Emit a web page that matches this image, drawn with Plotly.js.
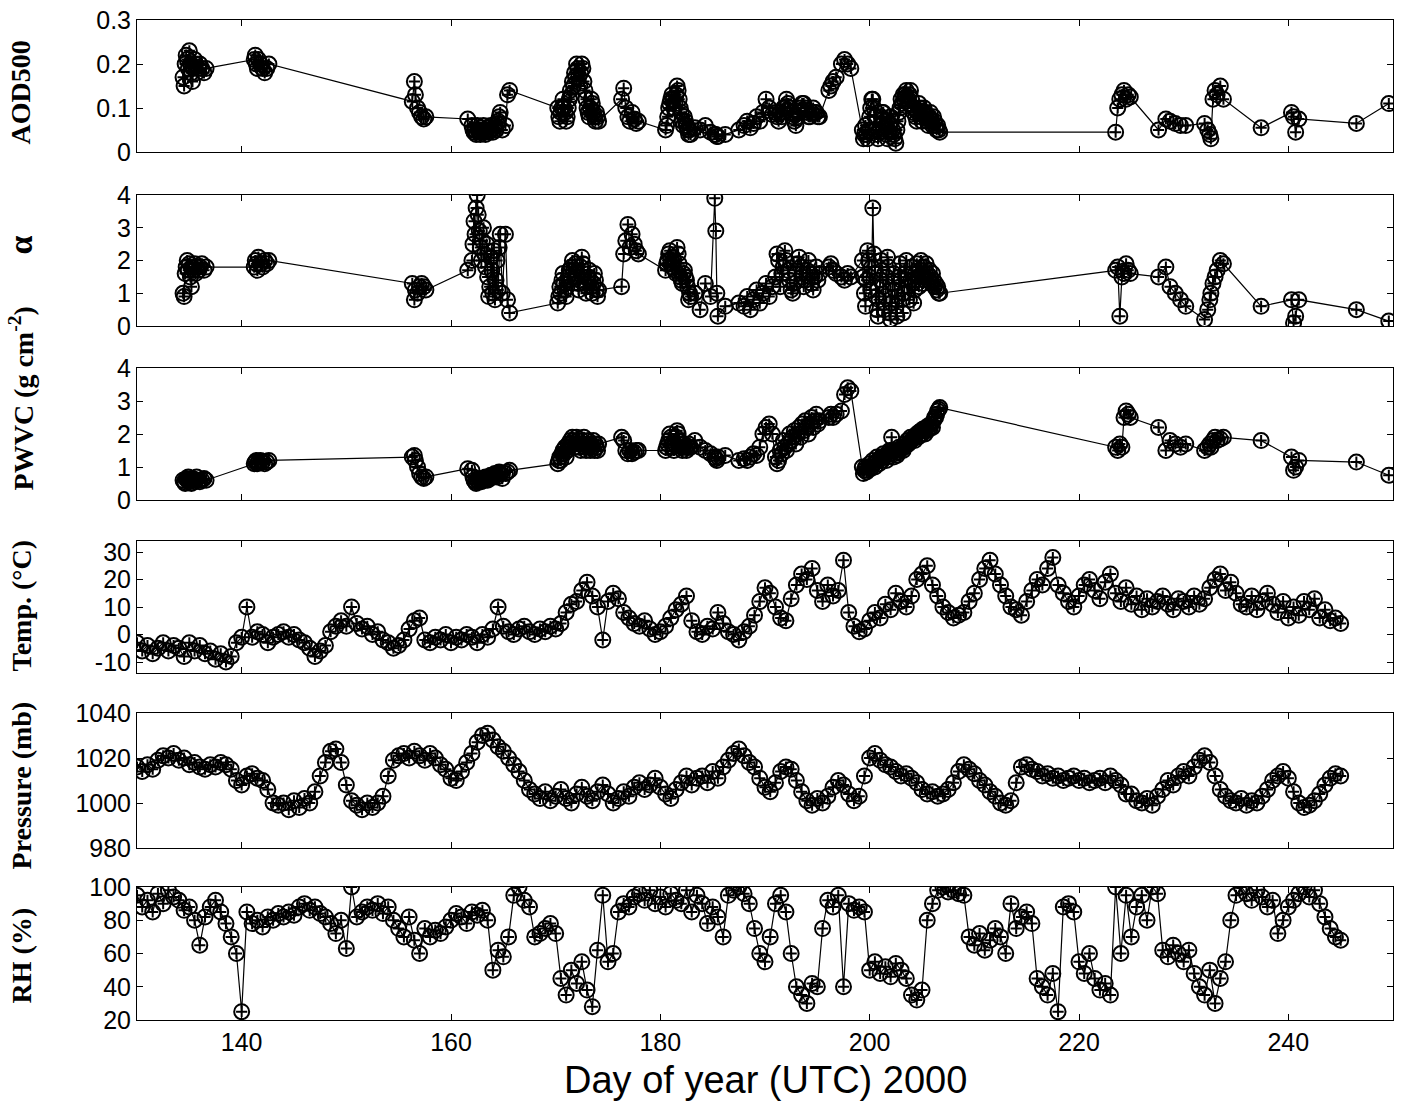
<!DOCTYPE html>
<html><head><meta charset="utf-8">
<script src="https://cdn.plot.ly/plotly-3.0.1.min.js"></script>
<style>html,body{margin:0;padding:0;background:#fff}#chart{width:1411px;height:1105px}</style>
</head><body><div id="chart"></div>
<script>
// Sun-photometer observation times (day of year) and retrievals
const sunDays = [
134.4,134.5,134.6,134.7,134.8,134.9,135.0,135.1,135.2,135.3,135.4,135.5,135.6,135.7,135.9,136.0,136.2,136.4,136.6,
141.2,141.3,141.4,141.5,141.6,141.8,142.0,142.2,142.4,142.6,
156.3,156.5,156.6,156.8,157.0,157.2,157.4,157.6,
161.6,162.0,162.1,162.2,162.3,162.4,162.5,162.6,162.7,162.8,162.9,163.0,163.1,163.2,163.3,163.4,163.5,163.6,163.7,163.8,163.9,164.0,164.1,164.2,164.3,164.4,164.5,164.6,164.7,
164.9,165.2,165.4,165.6,
170.2,170.3,170.4,170.5,170.6,170.7,170.8,170.9,171.0,171.1,171.2,171.3,171.4,171.5,171.6,171.7,171.8,171.9,172.0,172.1,
172.2,172.3,172.4,172.5,172.6,172.7,172.8,172.9,173.0,173.1,173.2,173.3,173.4,173.5,173.6,173.7,173.8,173.9,174.0,174.1,
176.3,176.5,176.7,176.9,177.1,177.3,177.5,177.7,177.9,
180.5,180.6,180.7,180.8,180.9,181.0,181.1,181.2,181.3,181.4,181.5,181.6,181.7,181.8,181.9,182.0,182.1,182.2,182.3,182.4,182.5,182.6,182.7,182.8,182.9,
183.3,183.8,184.3,184.8,185.2,185.3,185.4,185.5,186.2,
187.5,188.0,188.3,188.6,188.9,189.2,189.5,189.8,190.1,190.4,190.7,
191.0,191.15,191.3,191.45,191.6,191.75,191.9,192.05,192.2,192.35,192.5,192.65,192.8,192.95,193.1,193.25,193.4,193.55,193.7,193.85,194.0,194.15,194.3,194.45,194.6,194.75,194.9,195.05,195.2,
196.1,196.3,196.5,196.8,197.3,197.6,197.9,198.2,
199.3,199.4,199.5,199.6,199.7,199.8,199.9,200.0,200.1,200.2,200.3,200.4,200.5,200.6,200.7,200.8,200.9,201.0,201.1,201.2,
201.3,201.4,201.5,201.6,201.7,201.8,201.9,202.0,202.1,202.2,202.3,202.4,202.5,202.6,202.7,202.8,202.9,203.0,203.1,203.2,
203.3,203.4,203.5,203.6,203.7,203.8,203.9,204.0,204.1,204.2,204.3,204.4,204.5,204.6,204.7,204.8,204.9,205.0,205.1,205.2,
205.3,205.4,205.5,205.6,205.7,205.8,205.9,206.0,206.1,206.2,206.3,206.4,206.5,206.6,206.7,
223.5,223.7,223.9,224.1,224.3,224.5,224.7,224.9,
227.6,228.3,228.7,229.2,229.7,230.2,
232.0,232.3,232.5,232.6,232.8,233.0,233.2,233.5,233.8,
237.4,240.3,240.5,240.7,241.0,
246.5,249.6];
const aod500 = [
0.17,0.15,0.20,0.22,0.21,0.19,0.23,0.20,0.18,0.16,0.19,0.21,0.20,0.18,0.19,0.20,0.19,0.18,0.19,
0.21,0.22,0.20,0.19,0.21,0.20,0.19,0.18,0.19,0.20,
0.115,0.16,0.13,0.10,0.09,0.08,0.075,0.08,
0.075,0.06,0.05,0.045,0.05,0.04,0.06,0.05,0.045,0.04,0.055,0.05,0.06,0.045,0.04,0.05,0.055,0.045,0.05,0.06,0.05,0.045,0.055,0.06,0.05,0.065,0.07,0.08,0.09,
0.05,0.06,0.13,0.14,
0.10,0.08,0.07,0.09,0.10,0.12,0.10,0.09,0.07,0.08,0.10,0.12,0.14,0.13,0.16,0.15,0.18,0.17,0.20,0.19,
0.17,0.15,0.18,0.20,0.19,0.16,0.14,0.12,0.10,0.09,0.08,0.10,0.12,0.11,0.09,0.08,0.07,0.09,0.08,0.07,
0.12,0.145,0.10,0.08,0.07,0.09,0.075,0.065,0.07,
0.05,0.06,0.08,0.10,0.11,0.12,0.13,0.12,0.10,0.11,0.13,0.15,0.14,0.12,0.10,0.09,0.07,0.06,0.08,0.07,0.06,0.05,0.04,0.05,0.04,
0.055,0.05,0.06,0.045,0.04,0.04,0.035,0.035,0.04,
0.05,0.06,0.07,0.055,0.065,0.08,0.07,0.09,0.12,0.10,0.085,
0.09,0.08,0.07,0.09,0.08,0.10,0.10,0.12,0.11,0.10,0.09,0.08,0.07,0.06,0.08,0.09,0.10,0.11,0.11,0.10,0.09,0.08,0.08,0.09,0.10,0.09,0.09,0.08,0.08,
0.14,0.15,0.16,0.17,0.20,0.21,0.20,0.19,
0.05,0.03,0.04,0.06,0.04,0.03,0.05,0.08,0.10,0.12,0.12,0.10,0.08,0.05,0.04,0.03,0.05,0.06,0.08,0.09,
0.09,0.07,0.06,0.04,0.03,0.05,0.06,0.08,0.07,0.05,0.04,0.03,0.02,0.05,0.07,0.09,0.10,0.12,0.11,0.13,
0.12,0.13,0.14,0.12,0.11,0.13,0.14,0.12,0.10,0.09,0.10,0.08,0.07,0.09,0.11,0.10,0.08,0.07,0.09,0.10,
0.09,0.08,0.07,0.06,0.08,0.09,0.07,0.06,0.08,0.07,0.06,0.05,0.06,0.05,0.045,
0.045,0.10,0.12,0.13,0.14,0.12,0.13,0.125,
0.05,0.075,0.07,0.065,0.06,0.06,
0.065,0.05,0.04,0.03,0.12,0.14,0.13,0.15,0.12,
0.055,0.09,0.08,0.045,0.075,
0.065,0.11];
const alpha = [
1.0,0.9,1.6,1.8,2.0,1.7,1.9,1.5,1.2,1.8,1.7,1.9,1.6,1.8,1.7,1.8,1.9,1.7,1.8,
1.8,2.0,1.9,1.7,2.1,1.9,1.8,2.0,1.9,2.0,
1.3,0.8,1.1,1.0,1.2,1.3,1.2,1.1,
1.7,2.0,2.5,3.2,2.8,3.6,4.0,3.4,2.9,2.4,2.0,2.6,3.0,2.2,1.8,2.5,1.5,0.9,1.2,2.1,1.7,1.0,2.3,0.8,1.4,2.0,1.1,2.4,2.8,
1.0,2.8,0.8,0.4,
0.7,0.9,1.2,1.0,1.4,1.6,1.3,1.1,0.9,1.2,1.5,1.7,1.4,1.8,2.0,1.7,1.5,1.9,1.6,1.3,
1.1,1.4,1.8,2.1,1.9,1.6,1.3,1.0,1.2,1.5,1.7,1.4,1.2,1.0,1.3,1.6,1.4,1.1,0.9,1.1,
1.2,2.2,2.6,3.1,2.4,2.8,2.5,2.3,2.2,
1.7,1.9,2.0,2.2,2.3,1.9,1.8,2.1,2.0,1.7,1.6,2.4,2.2,1.9,1.5,1.4,1.3,1.6,1.7,1.5,1.4,1.2,0.8,1.0,0.9,
1.0,0.5,1.3,0.9,3.9,2.9,1.0,0.3,0.6,
0.7,0.6,0.9,0.5,0.8,1.1,0.7,1.0,1.3,0.9,1.2,
1.5,2.2,2.0,1.2,1.6,1.8,2.3,2.0,1.7,1.4,1.1,1.0,1.3,1.6,1.9,2.1,1.8,1.5,1.2,1.4,1.7,2.0,1.6,1.3,1.1,1.5,1.8,1.4,1.6,
1.8,1.9,1.7,1.6,1.5,1.4,1.6,1.5,
2.0,1.5,1.0,0.6,1.4,2.3,2.0,1.5,1.1,1.8,3.6,2.2,1.6,0.9,0.5,0.3,0.8,1.4,2.0,1.7,
1.2,0.5,0.9,1.5,2.1,1.8,0.4,0.2,0.7,1.3,1.6,1.1,0.6,0.3,0.9,1.5,1.9,1.4,0.8,0.4,
1.0,1.6,2.0,1.5,1.2,0.8,1.4,1.8,1.3,0.7,1.1,1.6,1.9,1.5,1.2,1.7,2.0,1.6,1.3,1.8,
1.5,1.9,1.6,1.4,1.7,1.5,1.3,1.6,1.4,1.2,1.3,1.1,1.2,1.0,1.0,
1.7,1.8,0.3,1.5,1.6,1.9,1.7,1.6,
1.5,1.8,1.2,1.0,0.8,0.6,
0.2,0.5,0.8,1.0,1.3,1.5,1.7,2.0,1.9,
0.6,0.8,0.1,0.3,0.8,
0.5,0.15];
const pwvc = [
0.6,0.55,0.5,0.65,0.6,0.7,0.55,0.6,0.5,0.65,0.6,0.55,0.6,0.7,0.6,0.55,0.6,0.65,0.6,
1.1,1.15,1.2,1.1,1.15,1.2,1.15,1.1,1.15,1.2,
1.3,1.35,1.2,1.0,0.8,0.7,0.65,0.7,
0.95,0.9,0.7,0.6,0.55,0.5,0.6,0.55,0.65,0.6,0.55,0.6,0.65,0.6,0.7,0.65,0.6,0.7,0.65,0.75,0.7,0.75,0.7,0.8,0.75,0.7,0.8,0.85,0.8,
0.65,0.8,0.85,0.9,
1.1,1.2,1.3,1.2,1.4,1.5,1.4,1.6,1.3,1.5,1.7,1.6,1.8,1.7,1.9,1.8,1.6,1.7,1.9,1.8,
1.6,1.7,1.5,1.8,1.7,1.9,1.6,1.5,1.7,1.8,1.6,1.5,1.7,1.6,1.8,1.5,1.7,1.6,1.5,1.7,
1.9,1.8,1.5,1.4,1.5,1.4,1.45,1.5,1.5,
1.5,1.6,1.7,1.8,2.0,1.9,1.7,1.6,1.5,1.7,1.9,2.1,2.0,1.8,1.7,1.6,1.5,1.6,1.7,1.6,1.5,1.6,1.7,1.6,1.6,
1.8,1.6,1.5,1.4,1.3,1.25,1.2,1.3,1.35,
1.2,1.25,1.2,1.3,1.4,1.35,1.6,2.0,2.2,2.3,2.0,
1.3,1.1,1.2,1.5,1.4,1.8,1.6,1.5,1.7,2.0,1.8,1.9,2.1,1.7,2.0,2.2,1.9,2.3,2.1,2.4,2.2,2.0,2.3,2.5,2.2,2.4,2.6,2.3,2.4,
2.5,2.6,2.5,2.6,2.7,3.2,3.4,3.3,
1.0,0.8,0.9,1.0,0.85,0.9,1.0,1.1,0.95,1.0,1.2,1.1,1.0,1.15,1.3,1.2,1.1,1.25,1.3,1.2,
1.4,1.3,1.35,1.2,1.3,1.45,1.5,1.4,1.9,1.5,1.3,1.4,1.5,1.35,1.45,1.6,1.5,1.55,1.6,1.5,
1.6,1.7,1.65,1.8,1.7,1.75,1.9,1.8,1.85,1.9,1.8,1.95,2.0,1.9,2.05,1.95,2.1,2.0,2.15,2.1,
2.0,2.2,2.1,2.25,2.15,2.2,2.3,2.2,2.4,2.5,2.5,2.6,2.7,2.75,2.8,
1.6,1.5,1.7,1.6,2.5,2.7,2.6,2.5,
2.2,1.5,1.8,1.7,1.6,1.7,
1.5,1.6,1.7,1.6,1.8,1.9,1.8,1.85,1.9,
1.8,1.3,0.9,1.0,1.2,
1.15,0.75];

// Surface meteorology, twice daily (day of year)
const metDays = [
130,130.5,131,131.5,132,132.5,133,133.5,134,134.5,135,135.5,136,136.5,137,137.5,138,138.5,139,139.5,
140,140.5,141,141.5,142,142.5,143,143.5,144,144.5,145,145.5,146,146.5,147,147.5,148,148.5,149,149.5,
150,150.5,151,151.5,152,152.5,153,153.5,154,154.5,155,155.5,156,156.5,157,157.5,158,158.5,159,159.5,
160,160.5,161,161.5,162,162.5,163,163.5,164,164.5,165,165.5,166,166.5,167,167.5,168,168.5,169,169.5,
170,170.5,171,171.5,172,172.5,173,173.5,174,174.5,175,175.5,176,176.5,177,177.5,178,178.5,179,179.5,
180,180.5,181,181.5,182,182.5,183,183.5,184,184.5,185,185.5,186,186.5,187,187.5,188,188.5,189,189.5,
190,190.5,191,191.5,192,192.5,193,193.5,194,194.5,195,195.5,196,196.5,197,197.5,198,198.5,199,199.5,
200,200.5,201,201.5,202,202.5,203,203.5,204,204.5,205,205.5,206,206.5,207,207.5,208,208.5,209,209.5,
210,210.5,211,211.5,212,212.5,213,213.5,214,214.5,215,215.5,216,216.5,217,217.5,218,218.5,219,219.5,
220,220.5,221,221.5,222,222.5,223,223.5,224,224.5,225,225.5,226,226.5,227,227.5,228,228.5,229,229.5,
230,230.5,231,231.5,232,232.5,233,233.5,234,234.5,235,235.5,236,236.5,237,237.5,238,238.5,239,239.5,
240,240.5,241,241.5,242,242.5,243,243.5,244,244.5,245];
const tempC = [
-3,-6,-4,-7,-5,-3,-6,-4,-5,-8,-3,-6,-4,-7,-6,-9,-7,-10,-8,-3,
-1,10,-1,1,0,-3,-1,0,1,-1,0,-2,-3,-5,-8,-6,-4,1,3,5,
3,10,4,2,3,0,1,-2,-3,-5,-4,-2,2,5,6,-2,-3,-1,-2,0,
-3,-1,-2,0,-1,-3,0,-1,2,10,3,1,0,2,3,1,0,2,1,3,
2,4,8,11,12,16,19,14,10,-2,12,15,13,8,6,4,3,5,2,0,
1,3,6,9,11,14,5,1,0,3,2,8,4,1,0,-2,1,3,7,12,
17,15,10,6,5,13,18,22,20,24,16,12,18,14,16,27,8,3,1,2,
5,8,6,11,9,15,12,10,14,20,22,25,18,14,10,8,6,7,8,12,
15,20,24,27,22,18,14,10,9,7,12,16,20,18,24,28,18,15,12,10,
14,18,20,16,13,19,22,15,12,17,11,14,9,13,10,12,14,11,9,13,
12,10,14,11,13,17,20,22,16,19,15,11,10,14,9,12,15,11,8,12,
6,10,7,12,9,13,6,9,5,6,4];
const pressureMb = [
1016,1014,1017,1015,1019,1021,1020,1022,1019,1020,1017,1018,1016,1015,1017,1016,1018,1017,1015,1010,
1008,1012,1013,1011,1010,1006,1000,999,1000,997,1001,998,1002,1000,1005,1012,1018,1023,1024,1018,
1008,1001,999,997,1000,998,1000,1003,1012,1019,1021,1022,1020,1023,1021,1019,1022,1020,1017,1015,
1011,1010,1014,1018,1022,1027,1030,1031,1028,1025,1023,1020,1017,1014,1010,1006,1004,1002,1005,1001,
1003,1006,1002,1000,1004,1007,1003,1001,1005,1008,1004,1000,1002,1005,1003,1007,1009,1006,1008,1011,
1007,1004,1002,1006,1009,1012,1008,1011,1012,1009,1014,1011,1016,1019,1022,1024,1021,1018,1016,1011,
1007,1005,1009,1014,1016,1015,1010,1005,1001,999,1002,1000,1003,1007,1010,1008,1004,1001,1003,1012,
1020,1022,1019,1017,1016,1014,1012,1013,1011,1009,1006,1004,1005,1003,1004,1006,1009,1014,1017,1015,
1013,1010,1008,1005,1003,1000,999,1001,1009,1016,1017,1015,1014,1012,1013,1011,1012,1010,1011,1012,
1010,1011,1009,1010,1011,1009,1012,1010,1008,1004,1004,1001,1000,1002,999,1003,1006,1010,1008,1012,
1014,1012,1016,1019,1021,1018,1012,1006,1003,1001,1000,1002,999,1001,1000,1003,1006,1010,1012,1014,
1011,1005,1000,998,999,1001,1004,1008,1011,1013,1012];
const rhPct = [
95,88,92,85,96,90,98,94,92,86,88,80,65,82,88,92,85,78,70,60,
25,85,78,80,76,82,80,84,82,85,83,88,90,86,88,84,82,78,72,80,
63,100,82,85,88,86,90,84,88,80,75,70,82,68,60,75,70,74,72,76,
80,84,82,78,85,83,86,80,50,62,58,70,95,100,92,88,70,72,75,78,
72,45,35,50,42,55,38,28,62,95,55,60,85,90,88,94,96,92,98,90,
94,88,96,92,90,98,85,95,90,78,88,82,70,95,98,100,96,90,75,60,
55,70,90,95,85,60,40,35,30,42,40,75,92,88,95,40,90,86,88,85,
50,55,48,52,46,54,50,45,35,32,38,80,90,98,100,97,98,96,95,70,
65,72,62,68,75,70,60,90,75,82,85,78,45,40,35,48,25,88,90,85,
55,48,60,45,38,42,35,100,60,95,70,88,95,80,100,96,62,58,65,60,
55,62,48,40,35,50,30,45,55,80,95,100,96,92,98,94,88,92,72,80,
88,92,96,100,94,98,90,82,75,70,68];

const xTicks = [140,160,180,200,220,240];
const panels = [
  {x: sunDays, y: aod500, range: [0, 0.3], tickvals: [0, 0.1, 0.2, 0.3], ticktext: ['0','0.1','0.2','0.3'], dom: [0.868, 1.0]},
  {x: sunDays, y: alpha, range: [0, 4], tickvals: [0,1,2,3,4], ticktext: ['0','1','2','3','4'], dom: [0.694, 0.825]},
  {x: sunDays, y: pwvc, range: [0, 4], tickvals: [0,1,2,3,4], ticktext: ['0','1','2','3','4'], dom: [0.52, 0.652]},
  {x: metDays, y: tempC, range: [-14, 34], tickvals: [-10,0,10,20,30], ticktext: ['-10','0','10','20','30'], dom: [0.347, 0.479]},
  {x: metDays, y: pressureMb, range: [980, 1040], tickvals: [980,1000,1020,1040], ticktext: ['980','1000','1020','1040'], dom: [0.172, 0.307]},
  {x: metDays, y: rhPct, range: [20, 100], tickvals: [20,40,60,80,100], ticktext: ['20','40','60','80','100'], dom: [0, 0.133]}
];

const traces = [];
const layout = {
  width: 1411, height: 1105,
  margin: {l: 137, r: 18, t: 20, b: 85},
  paper_bgcolor: '#fff', plot_bgcolor: '#fff',
  showlegend: false,
  font: {family: 'Liberation Sans, Arial, sans-serif', size: 24, color: '#000'},
  annotations: []
};
panels.forEach((p, i) => {
  const n = i === 0 ? '' : String(i + 1);
  traces.push({
    x: p.x, y: p.y, xaxis: 'x' + n, yaxis: 'y' + n,
    type: 'scatter', mode: 'lines+markers',
    line: {color: '#000', width: 1.2},
    marker: {symbol: 'circle-open', size: 15, color: '#000', line: {width: 2, color: '#000'}}
  });
  traces.push({
    x: p.x, y: p.y, xaxis: 'x' + n, yaxis: 'y' + n,
    type: 'scatter', mode: 'markers',
    marker: {symbol: 'cross-thin-open', size: 8, color: '#000', line: {width: 2, color: '#000'}}
  });
  layout['xaxis' + n] = {
    domain: [0, 1], range: [130, 250], anchor: 'y' + n,
    tickmode: 'array', tickvals: xTicks, ticktext: xTicks.map(String),
    ticks: 'inside', ticklen: 6, tickcolor: '#000',
    showline: true, linecolor: '#000', linewidth: 1, mirror: 'ticks',
    showgrid: false, zeroline: false,
    showticklabels: i === 5,
    tickfont: {family: 'Liberation Sans, Arial, sans-serif', size: 25, color: '#000'}
  };
  if (i > 0) layout['xaxis' + n].matches = 'x';
  layout['yaxis' + n] = {
    domain: p.dom, range: p.range, anchor: 'x' + n,
    tickmode: 'array', tickvals: p.tickvals, ticktext: p.ticktext,
    ticks: 'inside', ticklen: 6, tickcolor: '#000',
    showline: true, linecolor: '#000', linewidth: 1, mirror: 'ticks',
    showgrid: false, zeroline: false,
    tickfont: {family: 'Liberation Sans, Arial, sans-serif', size: 25, color: '#000'}
  };
});

const titleFont = {family: 'Liberation Serif, Times New Roman, serif', size: 28, color: '#000'};
const ytitles = [
  {text: '<b>AOD500</b>', y: 0.928},
  {text: '<b>α</b>', y: 0.775},
  {text: '<b>PWVC (g cm<sup>-2</sup>)</b>', y: 0.622},
  {text: '<b>Temp. (°C)</b>', y: 0.415},
  {text: '<b>Pressure (mb)</b>', y: 0.235},
  {text: '<b>RH (%)</b>', y: 0.065}
];
ytitles.forEach(t => {
  layout.annotations.push({
    text: t.text, xref: 'paper', yref: 'paper', x: -0.092, y: t.y,
    xanchor: 'center', yanchor: 'middle', textangle: -90, showarrow: false,
    font: t.text === '<b>α</b>' ? Object.assign({}, titleFont, {size: 34}) : titleFont
  });
});
layout.annotations.push({
  text: 'Day of year (UTC) 2000', xref: 'paper', yref: 'paper', x: 0.5, y: -0.06,
  xanchor: 'center', yanchor: 'middle', showarrow: false,
  font: {family: 'Liberation Sans, Arial, sans-serif', size: 38, color: '#000'}
});

Plotly.newPlot('chart', traces, layout, {displayModeBar: false, staticPlot: true});
</script></body></html>
